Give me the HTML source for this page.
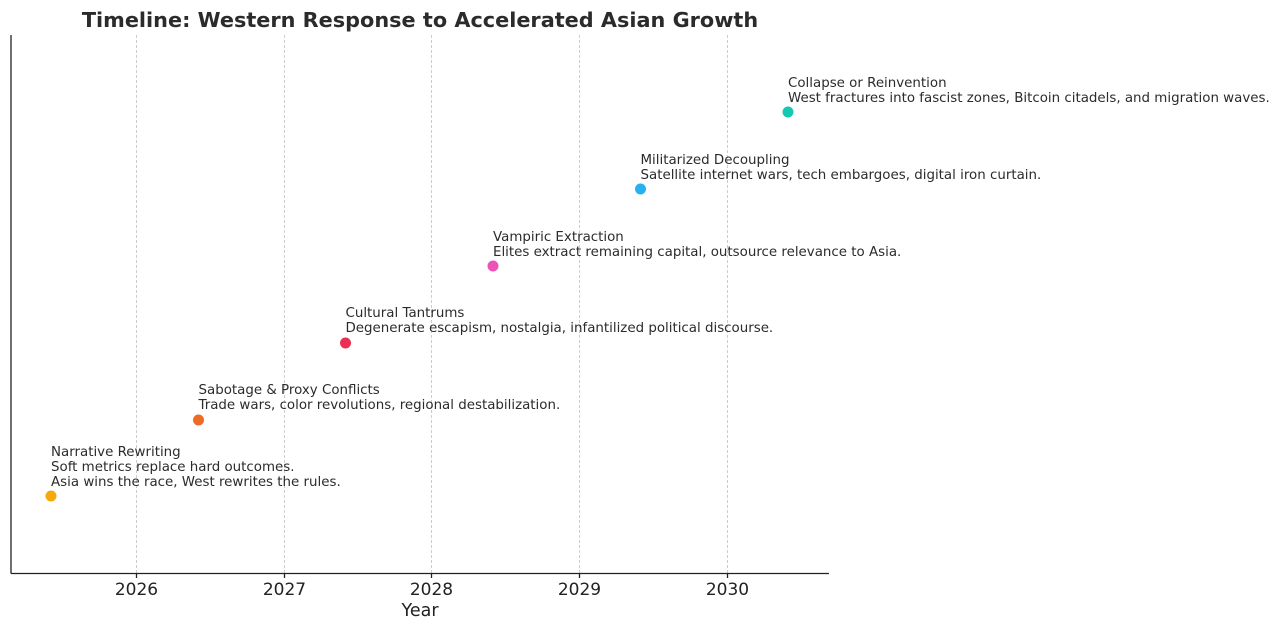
<!DOCTYPE html>
<html><head><meta charset="utf-8"><style>
body{margin:0;background:#fff;}
svg{display:block;font-family:"DejaVu Sans","Liberation Sans",sans-serif;}
</style></head><body>
<svg width="1280" height="630" viewBox="0 0 1280 630">
<text x="420" y="27" text-anchor="middle" font-size="20.8" font-weight="bold" fill="#2b2b2b">Timeline: Western Response to Accelerated Asian Growth</text>
<g stroke="#cccccc" stroke-width="1" stroke-dasharray="3,2">
<line x1="136.5" y1="35" x2="136.5" y2="573"/>
<line x1="284.5" y1="35" x2="284.5" y2="573"/>
<line x1="431.5" y1="35" x2="431.5" y2="573"/>
<line x1="579.5" y1="35" x2="579.5" y2="573"/>
<line x1="727.5" y1="35" x2="727.5" y2="573"/>
</g>
<g stroke="#222" stroke-width="1.3">
<line x1="11" y1="35" x2="11" y2="573.5"/>
<line x1="11" y1="573.5" x2="829" y2="573.5"/>
<line x1="136.5" y1="573" x2="136.5" y2="578"/>
<line x1="284.5" y1="573" x2="284.5" y2="578"/>
<line x1="431.5" y1="573" x2="431.5" y2="578"/>
<line x1="579.5" y1="573" x2="579.5" y2="578"/>
<line x1="727.5" y1="573" x2="727.5" y2="578"/>
</g>
<g font-size="17" fill="#222" text-anchor="middle">
<text x="136.5" y="595">2026</text><text x="284.5" y="595">2027</text><text x="431.5" y="595">2028</text><text x="579.5" y="595">2029</text><text x="727.5" y="595">2030</text>
<text x="420" y="616" font-size="17.5">Year</text>
</g>
<circle cx="51" cy="496" r="5.5" fill="#f5a90a"/>
<circle cx="198.5" cy="420" r="5.5" fill="#ef6a22"/>
<circle cx="345.5" cy="343" r="5.5" fill="#ea2e54"/>
<circle cx="493" cy="266" r="5.5" fill="#ee52b8"/>
<circle cx="640.5" cy="189" r="5.5" fill="#26b2ee"/>
<circle cx="788" cy="112" r="5.5" fill="#14c8b4"/>
<g font-size="13.4" fill="#2b2b2b">
<text x="51" y="456">Narrative Rewriting</text>
<text x="51" y="471">Soft metrics replace hard outcomes.</text>
<text x="51" y="486">Asia wins the race, West rewrites the rules.</text>
<text x="198.5" y="394">Sabotage &amp; Proxy Conflicts</text>
<text x="198.5" y="409">Trade wars, color revolutions, regional destabilization.</text>
<text x="345.5" y="317">Cultural Tantrums</text>
<text x="345.5" y="332">Degenerate escapism, nostalgia, infantilized political discourse.</text>
<text x="493" y="241">Vampiric Extraction</text>
<text x="493" y="256">Elites extract remaining capital, outsource relevance to Asia.</text>
<text x="640.5" y="164">Militarized Decoupling</text>
<text x="640.5" y="179">Satellite internet wars, tech embargoes, digital iron curtain.</text>
<text x="788" y="87">Collapse or Reinvention</text>
<text x="788" y="102">West fractures into fascist zones, Bitcoin citadels, and migration waves.</text>
</g>
</svg>
</body></html>
